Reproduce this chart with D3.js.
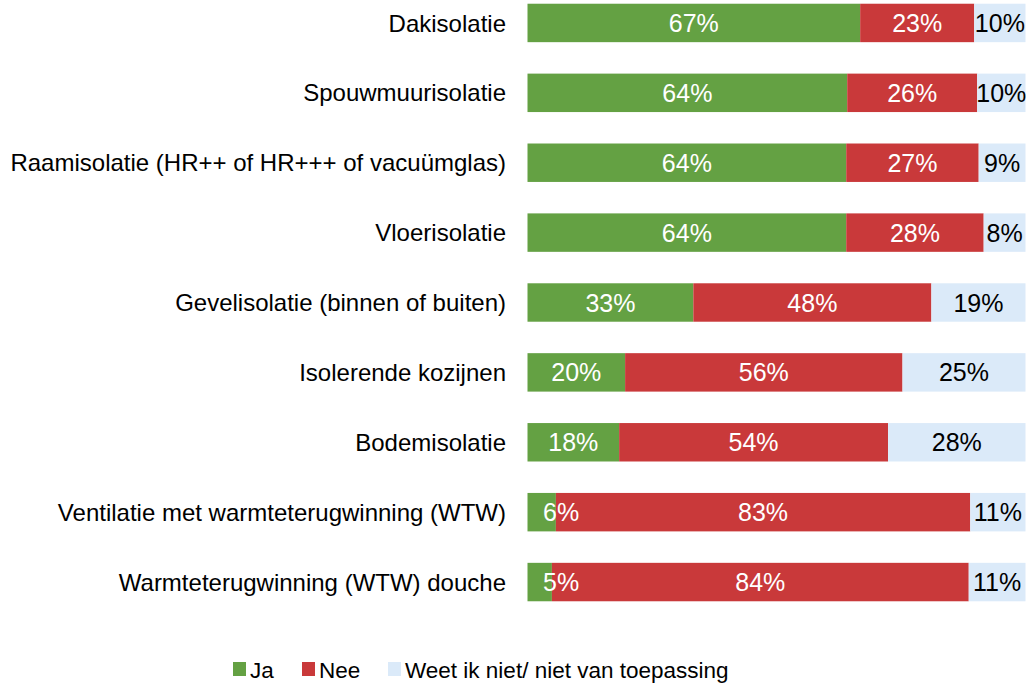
<!DOCTYPE html>
<html><head><meta charset="utf-8">
<script src="https://cdn.jsdelivr.net/npm/d3@7"></script>
<style>body{margin:0;background:#fff}svg{display:block;font-family:"Liberation Sans",Arial,sans-serif}</style>
</head><body><svg id="c" width="1029" height="683"></svg>
<script>
const categories = ["Dakisolatie","Spouwmuurisolatie","Raamisolatie (HR++ of HR+++ of vacuümglas)","Vloerisolatie","Gevelisolatie (binnen of buiten)","Isolerende kozijnen","Bodemisolatie","Ventilatie met warmteterugwinning (WTW)","Warmteterugwinning (WTW) douche"];
const seriesNames = ["Ja","Nee","Weet ik niet/ niet van toepassing"];
const ja   = [66.8, 64.2, 64.0, 64.0, 33.3, 19.6, 18.4, 5.7, 4.9];
const nee  = [22.9, 26.1, 26.6, 27.6, 47.8, 55.7, 54.0, 83.2, 83.7];
const weet = [10.3,  9.7,  9.4,  8.4, 18.9, 24.7, 27.6, 11.1, 11.4];
const colors = ["#64a143","#c9393a","#dbeaf9"];
const textColors = ["#fff","#fff","#000"];

const svg = d3.select("#c");
const x = d3.scaleLinear().domain([0,100]).range([527.5,1025.5]);
const y = d3.scaleBand().domain(categories).range([-12,617]).paddingInner(0.45).paddingOuter(0.225);

const rows = categories.map((c,i)=>({cat:c, Ja:ja[i], Nee:nee[i], Weet:weet[i]}));
const stack = d3.stack().keys(["Ja","Nee","Weet"])(rows);

const barsG = svg.append("g");
const labG = svg.append("g");
stack.forEach((layer,k)=>{
  barsG.append("g").selectAll("rect").data(layer).join("rect")
    .attr("x",d=>x(d[0])).attr("width",d=>x(d[1])-x(d[0]))
    .attr("y",d=>y(d.data.cat)).attr("height",y.bandwidth())
    .attr("fill",colors[k]);
  labG.append("g").selectAll("text").data(layer).join("text")
    .each(function(d){
      const w = x(d[1])-x(d[0]);
      const narrow = w < 35;
      d3.select(this)
        .attr("x", narrow ? x(d[0])+15.5 : (x(d[0])+x(d[1]))/2)
        .attr("text-anchor", narrow ? "start" : "middle");
    })
    .attr("y",d=>y(d.data.cat)+y.bandwidth()/2)
    .attr("dy","0.36em")
    .attr("font-size",25).attr("fill",textColors[k])
    .text(d=>Math.round(d[1]-d[0])+"%");
});

svg.append("g").selectAll("text").data(categories).join("text")
  .attr("x",506).attr("y",d=>y(d)+y.bandwidth()/2).attr("dy","0.36em")
  .attr("text-anchor","end").attr("font-size",24).attr("fill","#000").text(d=>d);

const legX = [233, 302, 388];
const leg = svg.append("g");
seriesNames.forEach((s,i)=>{
  leg.append("rect").attr("x",legX[i]).attr("y",662).attr("width",13).attr("height",14).attr("fill",colors[i]);
  leg.append("text").attr("x",legX[i]+17).attr("y",670).attr("dy","0.36em").attr("font-size",22.5).attr("fill","#000").text(s);
});
</script></body></html>
